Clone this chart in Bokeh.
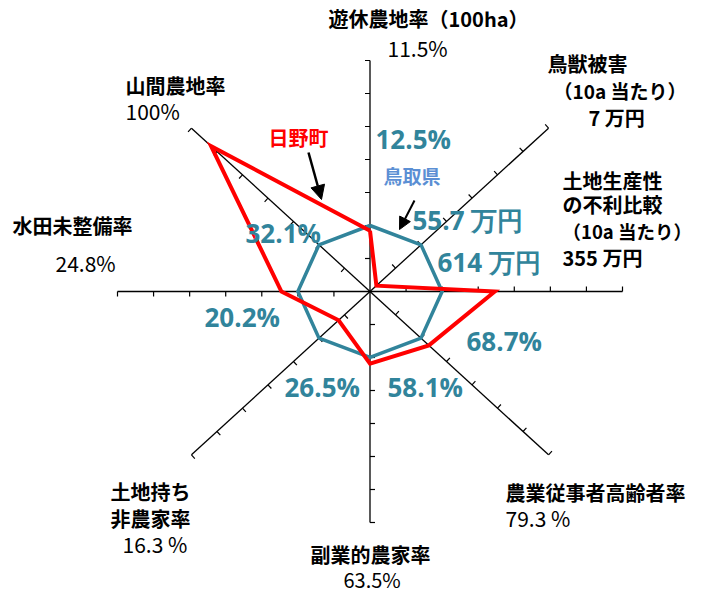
import math
from bokeh.plotting import figure
from bokeh.models import Range1d, Arrow, NormalHead
from bokeh.core.properties import value
from bokeh.embed import file_html
from bokeh.resources import INLINE

# ---------------- data ----------------
categories = ["遊休農地率", "鳥獣被害", "土地生産性の不利比較", "農業従事者高齢者率",
              "副業的農家率", "土地持ち非農家率", "水田未整備率", "山間農地率"]
hino = [11.5, 7, 355, 79.3, 63.5, 16.3, 24.8, 100]          # 日野町
tottori = [12.5, 55.7, 614, 68.7, 58.1, 26.5, 20.2, 32.1]    # 鳥取県
inverted = [False, False, True, False, False, False, False, False]
hino_labels = ["11.5%", "7 万円", "355 万円", "79.3 %", "63.5%", "16.3 %", "24.8%", "100%"]
tottori_labels = ["12.5%", "55.7 万円", "614 万円", "68.7%", "58.1%", "26.5%", "20.2%", "32.1%"]
axis_max = 3.5
tick_step = 0.5

# index relative to Tottori (=1)
hino_idx = [(t / h) if inv else (h / t) for h, t, inv in zip(hino, tottori, inverted)]
tottori_idx = [t / t for t in tottori]

# ---------------- geometry ----------------
W, H = 693, 595
CX, CY = 369.5, 291.0          # centre in picture pixels
SX, SY = 252.5 / axis_max, 231.0 / axis_max   # px per unit
OFF = 0


def X(px):
    return (px - CX) / SX


def Y(py):
    return (CY - py) / SY


n = len(categories)
angles = [math.pi / 2 - 2 * math.pi * k / n for k in range(n)]

p = figure(width=W, height=H, output_backend="svg", toolbar_location=None,
           x_range=Range1d(X(OFF), X(OFF + W)), y_range=Range1d(Y(OFF + H), Y(OFF)),
           min_border=0, outline_line_color=None)
p.axis.visible = False
p.grid.visible = False
p.background_fill_color = "white"

# spokes
for a in angles:
    p.line([0, axis_max * math.cos(a)], [0, axis_max * math.sin(a)],
           line_color="black", line_width=1.3)

# tick marks (perpendicular, counter-clockwise side, 5px long)
x0s, y0s, x1s, y1s = [], [], [], []
nt = int(round(axis_max / tick_step))
for a in angles:
    dxp, dyp = math.cos(a) * SX, math.sin(a) * SY
    L = math.hypot(dxp, dyp)
    ux, uy = -dyp / L, dxp / L
    for i in range(1, nt + 1):
        r = i * tick_step
        xa, ya = r * math.cos(a), r * math.sin(a)
        x0s.append(xa); y0s.append(ya)
        x1s.append(xa + 5 * ux / SX); y1s.append(ya + 5 * uy / SY)
p.segment(x0s, y0s, x1s, y1s, line_color="black", line_width=1.2)

# series
def poly(vals):
    xs = [v * math.cos(a) for v, a in zip(vals, angles)]
    ys = [v * math.sin(a) for v, a in zip(vals, angles)]
    return xs + xs[:1], ys + ys[:1]

bx, by = poly(tottori_idx)
p.line(bx, by, line_color="#31849B", line_width=3.5, line_join="miter")
rx, ry = poly(hino_idx)
p.line(rx, ry, line_color="#FF0000", line_width=4, line_join="miter")

# ---------------- texts ----------------
JP = "Noto Sans CJK JP"
NUM = "Noto Sans CJK JP"
TEAL = "#31849B"


def txt(s, px, py, font=JP, size="20px", color="black", style="bold", align="left"):
    p.text([X(px)], [Y(py)], text=[s], text_font=value(font), text_font_size=value(size),
           text_font_style=style, text_color=color, text_align=align, text_baseline="middle")

# category labels (black)
txt("遊休農地率（100ha）", 328, 18)
txt(hino_labels[0], 387, 47, NUM, "21px", style="normal")
txt("鳥獣被害", 547, 63)
txt("（10a 当たり）", 553, 90, size="19px")
txt(hino_labels[1], 588, 117)
txt("土地生産性", 562, 180)
txt("の不利比較", 562, 204)
txt("（10a 当たり）", 562, 230, size="18.5px")
txt(hino_labels[2], 562, 257)
txt("山間農地率", 125, 85)
txt(hino_labels[7], 125, 110, NUM, "21px", style="normal")
txt("水田未整備率", 12, 225)
txt(hino_labels[6], 55, 262, NUM, "21px", style="normal")
txt("土地持ち", 110, 491)
txt("非農家率", 110, 518)
txt(hino_labels[5], 122, 543, NUM, "21px", style="normal")
txt("副業的農家率", 310, 554)
txt(hino_labels[4], 343, 579, NUM, "20px", style="normal")
txt("農業従事者高齢者率", 505, 492)
txt(hino_labels[3], 505, 517, NUM, "21px", style="normal")

# Tottori values (teal)
TF = "Open Sans"
TS = "26px"
txt(tottori_labels[0], 375, 138, TF, TS, TEAL)
txt(tottori_labels[1], 412, 219, TF, TS, TEAL)
txt(tottori_labels[2], 437, 261, TF, TS, TEAL)
txt(tottori_labels[3], 466, 340, TF, TS, TEAL)
txt(tottori_labels[4], 387, 386, TF, TS, TEAL)
txt(tottori_labels[5], 284, 386, TF, TS, TEAL)
txt(tottori_labels[6], 204, 316, TF, TS, TEAL)
txt(tottori_labels[7], 245, 232, TF, TS, TEAL)

# series names
txt("日野町", 268, 137, JP, "20px", "#FF0000")
txt("鳥取県", 383, 175, JP, "19px", "#5B8FD4")

# arrows
p.add_layout(Arrow(end=NormalHead(size=14, fill_color="black", line_color="black"),
                   x_start=X(308), y_start=Y(152), x_end=X(321), y_end=Y(199),
                   line_color="black", line_width=2.5))
p.add_layout(Arrow(end=NormalHead(size=12, fill_color="black", line_color="black"),
                   x_start=X(414), y_start=Y(200), x_end=X(399), y_end=Y(229),
                   line_color="black", line_width=2))

open("out.html", "w").write(file_html(p, INLINE))
